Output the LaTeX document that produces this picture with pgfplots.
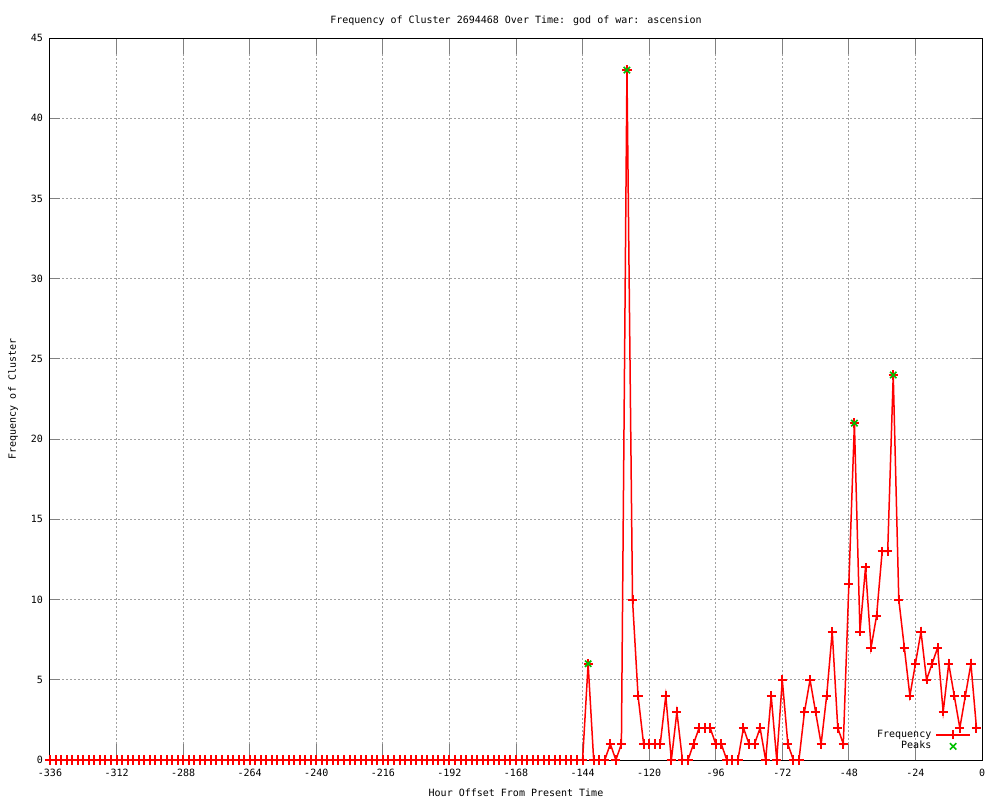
\documentclass[border=0pt]{standalone}
\usepackage{fontspec}
\setmainfont{DejaVu Sans Mono}
\usepackage{pgfplots}
\usepackage{pgfplotstable}
\pgfplotsset{compat=1.18}

\definecolor{gpred}{RGB}{255,0,0}
\definecolor{gpgreen}{RGB}{0,192,0}
\definecolor{gridgray}{RGB}{160,160,160}

% hour offset, cluster frequency (every 2 hours)
\pgfplotstableread{
hour freq
-336 0
-334 0
-332 0
-330 0
-328 0
-326 0
-324 0
-322 0
-320 0
-318 0
-316 0
-314 0
-312 0
-310 0
-308 0
-306 0
-304 0
-302 0
-300 0
-298 0
-296 0
-294 0
-292 0
-290 0
-288 0
-286 0
-284 0
-282 0
-280 0
-278 0
-276 0
-274 0
-272 0
-270 0
-268 0
-266 0
-264 0
-262 0
-260 0
-258 0
-256 0
-254 0
-252 0
-250 0
-248 0
-246 0
-244 0
-242 0
-240 0
-238 0
-236 0
-234 0
-232 0
-230 0
-228 0
-226 0
-224 0
-222 0
-220 0
-218 0
-216 0
-214 0
-212 0
-210 0
-208 0
-206 0
-204 0
-202 0
-200 0
-198 0
-196 0
-194 0
-192 0
-190 0
-188 0
-186 0
-184 0
-182 0
-180 0
-178 0
-176 0
-174 0
-172 0
-170 0
-168 0
-166 0
-164 0
-162 0
-160 0
-158 0
-156 0
-154 0
-152 0
-150 0
-148 0
-146 0
-144 0
-142 6
-140 0
-138 0
-136 0
-134 1
-132 0
-130 1
-128 43
-126 10
-124 4
-122 1
-120 1
-118 1
-116 1
-114 4
-112 0
-110 3
-108 0
-106 0
-104 1
-102 2
-100 2
-98 2
-96 1
-94 1
-92 0
-90 0
-88 0
-86 2
-84 1
-82 1
-80 2
-78 0
-76 4
-74 0
-72 5
-70 1
-68 0
-66 0
-64 3
-62 5
-60 3
-58 1
-56 4
-54 8
-52 2
-50 1
-48 11
-46 21
-44 8
-42 12
-40 7
-38 9
-36 13
-34 13
-32 24
-30 10
-28 7
-26 4
-24 6
-22 8
-20 5
-18 6
-16 7
-14 3
-12 6
-10 4
-8 2
-6 4
-4 6
-2 2
}\freqdata

\begin{document}
\begin{tikzpicture}
% page: 1000x800 px at 0.5pt per px
\useasboundingbox (-25pt,-20pt) rectangle (475pt,380pt);
\begin{axis}[
    scale only axis, width=466pt, height=361pt,
    font=\fontsize{5}{6.5}\selectfont,
    /pgf/number format/assume math mode=true,
    xmin=-336, xmax=0, ymin=0, ymax=45,
    xtick distance=24, ytick distance=5,
    axis line style={line width=0.5pt},
    tick style={line width=0.5pt},
    xtick style={/pgfplots/major tick length=8pt},
    ytick style={/pgfplots/major tick length=5pt},
    grid=major,
    grid style={draw=gridgray, line width=0.5pt, dash pattern=on 1pt off 1pt},
    title={Frequency of Cluster 2694468 Over Time: god of war: ascension},
    title style={at={(axis description cs:0.5,1.0263)}, anchor=center, yshift=-7pt},
    xlabel={Hour Offset From Present Time},
    xlabel style={at={(axis description cs:0.5,-0.0457)}, anchor=center},
    ylabel={Frequency of Cluster},
    ylabel style={at={(axis description cs:-0.0397,0.5)}, anchor=center},
    xticklabel style={yshift=-1pt},
    legend cell align=right,
    legend plot pos=right,
    legend style={draw=none, fill=none, at={(0.995,0.0)}, anchor=south east,
        font=\fontsize{5}{6.5}\selectfont, row sep=-3.5pt},
]
\addplot[gpred, line width=0.75pt, mark=+, mark size=2.3pt,
    mark options={line width=1pt}]
    table[x=hour, y=freq] {\freqdata};
\addlegendentry{Frequency}
\addplot[only marks, mark=x, mark size=2.25pt, color=gpgreen, line width=0.8pt]
    coordinates {(-142,6) (-128,43) (-46,21) (-32,24)};
\addlegendentry{Peaks}
\end{axis}
\end{tikzpicture}
\end{document}
